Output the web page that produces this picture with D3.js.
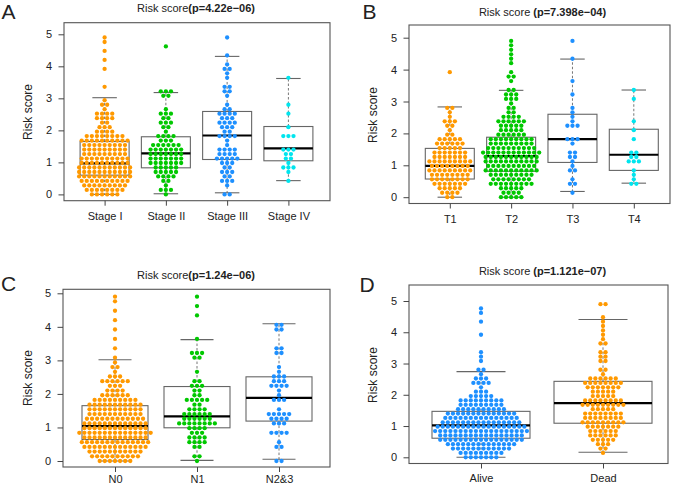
<!DOCTYPE html>
<html><head><meta charset="utf-8">
<script src="https://cdn.jsdelivr.net/npm/d3@7/dist/d3.min.js"></script>
<style>body{margin:0;background:#fff}svg{display:block}</style>
</head><body>
<svg id="chart" width="675" height="486"></svg>
<script>
// ---------------- DATA ----------------
const catsA = ["Stage I","Stage II","Stage III","Stage IV"];
const catsB = ["T1","T2","T3","T4"];
const catsC = ["N0","N1","N2&3"];
const catsD = ["Alive","Dead"];
const pA = "4.22e\u221206", pB = "7.398e\u221204", pC = "1.24e\u221206", pD = "1.121e\u221207";
const yTicks = [0,1,2,3,4,5];

const stageI = [0.01,0.02,0.03,0.04,0.05,0.02,
0.09,0.11,0.12,0.14,0.15,0.17,0.18,0.20,
0.22,0.24,0.25,0.27,0.28,0.29,0.31,0.32,0.34,
0.36,0.37,0.38,0.40,0.41,0.43,0.44,0.45,0.47,0.48,
0.50,0.51,0.52,0.53,0.55,0.56,0.57,0.58,0.59,0.61,0.62,
0.64,0.65,0.66,0.67,0.68,0.70,0.71,0.72,0.73,0.75,0.76,
0.78,0.79,0.80,0.81,0.83,0.84,0.85,0.86,0.88,0.89,0.90,
0.92,0.93,0.94,0.96,0.97,0.98,0.99,1.01,1.02,1.04,
1.06,1.07,1.08,1.10,1.11,1.12,1.14,1.15,1.16,1.18,
1.20,1.21,1.23,1.24,1.26,1.27,1.29,1.30,1.32,
1.34,1.35,1.37,1.38,1.40,1.41,1.43,1.44,1.46,
1.48,1.49,1.51,1.52,1.54,1.55,1.57,1.58,1.60,
1.62,1.63,1.64,1.66,1.67,1.68,1.70,1.71,1.72,1.74,
1.76,1.77,1.79,1.80,1.82,1.84,1.86,1.88,
1.91,1.94,1.97,2.01,2.05,2.09,2.14,2.20,2.27,
2.33,2.36,2.40,2.43,2.46,2.49,2.53,2.57,2.66,2.75,2.82,3.00,
3.30,3.86,4.24,4.43,4.78,4.90];
const stageII = [0.02,0.10,0.15,0.19,0.30,0.41,0.46,0.52,0.54,0.57,0.60,
0.64,0.66,0.69,0.72,0.75,0.79,0.82,0.85,0.87,0.90,
0.92,0.94,0.96,0.98,1.00,1.02,1.04,1.06,1.08,1.10,1.12,1.14,1.16,1.18,
1.20,1.22,1.24,1.26,1.28,1.30,1.32,1.34,1.36,1.38,1.40,1.42,1.44,1.46,
1.48,1.50,1.53,1.55,1.58,1.60,1.63,1.68,1.73,1.77,1.80,1.83,1.87,1.98,
2.05,2.12,2.20,2.24,2.28,2.34,2.42,2.47,2.52,2.57,2.70,3.05,3.10,3.16,3.18,3.20,4.61];
const stageIII = [0.03,0.05,0.30,0.43,0.45,0.47,0.54,0.58,0.66,0.68,0.72,0.80,0.84,
0.94,0.98,1.01,1.06,1.09,1.12,1.14,1.17,1.21,1.24,1.27,1.30,1.35,1.38,1.40,1.43,
1.56,1.66,1.78,1.80,1.84,1.86,1.92,1.96,2.06,2.10,2.14,2.20,2.23,2.26,2.29,
2.34,2.38,2.42,2.46,2.49,2.52,2.56,2.68,2.72,2.78,3.05,3.22,3.26,3.33,3.37,
3.62,3.84,3.92,3.96,4.08,4.31,4.95];
const stageIV = [0.43,0.68,0.78,0.82,0.88,1.00,1.12,1.18,1.25,1.30,1.40,1.44,1.45,
1.78,1.88,1.88,2.12,2.56,2.83,3.62];

const t1 = [0.00,0.03,0.10,0.13,0.16,0.19,0.23,0.26,0.29,0.31,0.33,
0.36,0.38,0.40,0.42,0.44,0.46,0.48,0.50,0.52,0.54,0.55,0.57,0.58,0.60,0.62,
0.64,0.66,0.68,0.69,0.71,0.72,0.74,0.76,0.78,0.79,0.81,0.82,0.84,0.85,0.87,0.88,0.90,
0.92,0.94,0.96,0.97,0.99,1.00,1.02,1.04,1.06,1.07,1.09,1.10,1.12,1.13,1.15,1.16,1.18,
1.20,1.22,1.24,1.26,1.28,1.30,1.32,1.34,1.36,1.38,1.40,1.42,1.44,1.46,
1.48,1.51,1.54,1.57,1.60,1.62,1.64,1.66,1.69,1.71,1.74,1.76,1.79,1.82,1.85,1.88,
1.93,1.98,2.08,2.20,2.27,2.35,2.40,2.44,2.50,2.66,2.75,2.80,3.87];
const t2 = [0.01,0.02,0.03,0.04,0.05,0.09,0.12,0.15,0.18,0.22,0.25,0.28,0.30,0.33,
0.36,0.37,0.39,0.40,0.42,0.43,0.45,0.46,0.48,0.50,0.52,0.53,0.55,0.57,0.58,0.60,0.62,
0.64,0.65,0.67,0.68,0.70,0.71,0.73,0.74,0.76,
0.78,0.79,0.80,0.81,0.83,0.84,0.85,0.86,0.87,0.88,0.90,
0.92,0.93,0.94,0.96,0.97,0.98,0.99,1.01,1.02,1.04,
1.06,1.07,1.08,1.09,1.11,1.12,1.13,1.14,1.15,1.16,1.18,
1.20,1.21,1.22,1.23,1.25,1.26,1.27,1.28,1.30,1.31,1.32,
1.34,1.35,1.36,1.37,1.38,1.39,1.40,1.41,1.42,1.43,1.44,1.46,
1.48,1.49,1.50,1.52,1.53,1.55,1.56,1.57,1.59,1.60,
1.62,1.63,1.65,1.66,1.68,1.69,1.71,1.72,1.74,
1.76,1.77,1.79,1.80,1.82,1.83,1.85,1.86,1.88,
1.90,1.93,1.96,1.98,2.00,2.02,2.04,2.07,2.10,2.13,2.16,2.18,2.21,2.24,2.27,2.30,
2.32,2.35,2.37,2.39,2.41,2.44,2.47,2.50,2.54,2.57,2.62,2.70,2.76,2.84,2.92,
3.03,3.08,3.12,3.17,3.20,3.24,3.30,3.35,3.62,3.80,3.84,3.95,4.22,4.34,4.47,4.60,4.74,4.88];
const t3 = [0.18,0.45,0.48,0.55,0.82,0.85,1.00,1.12,1.28,1.32,1.38,1.40,1.72,1.78,1.82,1.84,
2.25,2.27,2.30,2.32,2.48,2.72,2.78,3.24,3.63,4.33,4.96];
const t4 = [0.44,0.45,0.62,0.68,0.82,1.08,1.08,1.10,1.30,1.32,1.38,1.42,1.83,2.12,2.35,3.05,3.35];

const n0 = [0.00,0.01,0.02,0.03,0.04,0.05,0.06,
0.08,0.09,0.10,0.12,0.13,0.14,0.16,0.17,0.18,0.20,
0.22,0.23,0.24,0.25,0.26,0.28,0.29,0.30,0.31,0.32,0.34,
0.36,0.37,0.38,0.39,0.40,0.41,0.42,0.43,0.44,0.45,0.46,0.47,0.48,
0.50,0.51,0.52,0.53,0.54,0.55,0.56,0.57,0.58,0.59,0.60,0.61,0.62,0.62,
0.64,0.65,0.66,0.67,0.68,0.69,0.70,0.71,0.72,0.73,0.74,0.75,0.76,
0.78,0.78,0.79,0.80,0.81,0.82,0.83,0.84,0.85,0.86,0.87,0.88,0.89,0.90,0.90,
0.92,0.93,0.94,0.95,0.96,0.97,0.98,0.99,1.00,1.01,1.02,1.03,1.04,
1.06,1.07,1.08,1.09,1.10,1.11,1.12,1.13,1.14,1.15,1.16,1.17,1.18,
1.20,1.21,1.22,1.23,1.24,1.25,1.26,1.27,1.28,1.29,1.30,1.32,
1.34,1.35,1.36,1.37,1.38,1.39,1.40,1.41,1.42,1.44,1.46,
1.48,1.49,1.50,1.51,1.52,1.54,1.55,1.56,1.57,1.58,1.60,
1.62,1.63,1.64,1.65,1.66,1.67,1.68,1.69,1.70,1.72,1.74,
1.76,1.77,1.78,1.80,1.81,1.82,1.84,1.86,1.88,
1.90,1.93,1.95,1.97,1.99,2.02,2.05,2.09,2.13,2.16,2.20,2.25,2.29,
2.32,2.35,2.37,2.39,2.41,2.44,2.48,2.52,2.56,2.68,2.76,2.84,2.92,3.03,
3.30,3.62,3.87,4.25,4.42,4.75,4.88];
const n1 = [0.02,0.12,0.17,0.40,0.45,0.52,0.55,0.58,0.61,0.65,0.68,0.71,0.74,0.78,0.81,0.85,
0.93,0.96,0.99,1.02,1.06,1.07,1.08,1.09,1.10,1.12,1.14,1.17,
1.20,1.22,1.25,1.27,1.29,1.31,1.34,1.36,1.38,1.40,1.42,1.45,
1.48,1.51,1.54,1.58,1.63,1.70,1.76,1.79,1.82,1.84,1.87,1.92,1.98,2.05,2.10,
2.20,2.24,2.28,2.38,2.42,2.70,3.05,3.09,3.16,3.18,3.22,3.62,4.32,4.62,4.95];
const n23 = [0.04,0.06,0.40,0.44,0.60,0.80,0.83,0.86,0.88,1.07,1.10,1.14,1.22,1.25,1.28,1.30,
1.34,1.36,1.38,1.40,1.42,1.55,1.82,1.85,1.88,1.95,2.10,2.22,2.25,2.28,2.30,
2.36,2.40,2.44,2.50,2.53,2.56,2.70,2.78,3.20,3.24,3.33,3.37,3.86,3.92,4.05,4.09];

const alive = [0.00,0.01,0.02,0.03,0.04,0.05,0.06,
0.08,0.10,0.11,0.13,0.14,0.15,0.17,0.18,0.20,
0.22,0.23,0.24,0.25,0.26,0.27,0.28,0.29,0.30,0.31,0.32,0.34,
0.36,0.37,0.38,0.39,0.40,0.41,0.42,0.43,0.44,0.45,0.46,0.47,0.48,0.48,
0.50,0.50,0.51,0.52,0.53,0.54,0.55,0.56,0.56,0.57,0.58,0.59,0.60,0.60,0.61,0.62,0.62,
0.64,0.64,0.65,0.66,0.67,0.68,0.69,0.70,0.70,0.71,0.72,0.73,0.74,0.74,0.75,0.76,0.76,
0.78,0.78,0.79,0.80,0.80,0.81,0.82,0.83,0.84,0.84,0.85,0.86,0.87,0.88,0.88,0.89,0.90,0.90,0.90,
0.92,0.92,0.93,0.94,0.95,0.96,0.97,0.98,0.98,0.99,1.00,1.01,1.02,1.02,1.03,1.04,1.04,1.04,
1.06,1.06,1.07,1.08,1.09,1.10,1.11,1.12,1.12,1.13,1.14,1.15,1.16,1.17,1.18,1.18,
1.20,1.21,1.22,1.23,1.24,1.25,1.26,1.26,1.27,1.28,1.29,1.30,1.31,1.32,1.32,
1.34,1.35,1.36,1.37,1.38,1.39,1.40,1.40,1.41,1.42,1.43,1.44,1.45,1.46,
1.48,1.49,1.50,1.52,1.53,1.55,1.56,1.57,1.59,1.60,
1.62,1.64,1.65,1.67,1.68,1.69,1.71,1.72,1.74,
1.76,1.77,1.79,1.80,1.82,1.83,1.85,1.86,1.88,
1.91,1.94,1.96,1.98,2.01,2.05,2.10,2.15,2.24,2.33,2.37,2.40,2.43,2.48,2.52,2.56,
2.66,2.76,2.82,3.05,3.16,3.30,3.87,4.30,4.62,4.75];
const dead = [0.16,0.27,0.31,0.40,0.44,0.47,0.51,0.54,0.56,0.58,0.61,
0.64,0.67,0.69,0.71,0.73,0.76,0.78,0.80,0.83,0.85,0.87,0.90,
0.92,0.94,0.96,0.98,1.00,1.02,1.04,1.06,1.07,1.09,1.10,1.12,1.13,1.15,1.16,1.18,
1.20,1.22,1.24,1.25,1.27,1.29,1.30,1.32,1.34,1.36,1.38,1.39,1.41,1.42,1.44,1.46,
1.49,1.52,1.55,1.57,1.60,1.62,1.64,1.65,1.67,1.68,1.70,1.71,1.73,1.74,
1.76,1.78,1.79,1.81,1.82,1.84,1.86,1.88,1.91,1.94,1.96,1.99,2.02,
2.05,2.08,2.11,2.13,2.16,2.18,2.20,2.22,2.24,2.26,2.28,2.30,
2.32,2.34,2.36,2.38,2.40,2.42,2.43,2.44,2.46,2.48,2.50,2.52,2.54,2.57,
2.70,2.76,2.82,3.04,3.08,3.17,3.22,3.30,3.35,3.60,3.64,3.82,3.86,4.05,4.18,4.30,4.42,4.88,4.95];

// box statistics: [lower whisker, Q1, median, Q3, upper whisker]
const boxA = [[0.00,0.60,0.97,1.65,3.02],[0.02,0.83,1.28,1.80,3.18],[0.05,1.09,1.84,2.59,4.31],[0.43,1.05,1.44,2.12,3.62]];
const boxB = [[0.00,0.57,0.98,1.53,2.83],[0.00,0.81,1.29,1.88,3.35],[0.18,1.09,1.82,2.60,4.33],[0.44,0.84,1.33,2.13,3.36]];
const boxC = [[0.00,0.64,1.04,1.65,3.02],[0.02,0.99,1.33,2.22,3.62],[0.05,1.19,1.88,2.51,4.09]];
const boxD = [[0.00,0.61,1.02,1.47,2.74],[0.16,1.09,1.73,2.43,4.41]];

// ---------------- STYLE / LAYOUT ----------------
const ORANGE = "#FF9900", GREEN = "#00C800", BLUE = "#1E90FF", CYAN = "#00E5EE";
const FONT = "'Liberation Sans', Arial, Helvetica, sans-serif";
const STEP = 0.14, DX = 5.1, RAD = 2.15;

const panels = [
  {letter:"A", lx:1.5, ly:19.3, cats:catsA, groups:[stageI,stageII,stageIII,stageIV], box:boxA,
   colors:[ORANGE,GREEN,BLUE,CYAN], title:"Risk score", p:pA, tx:196, ty:12.3,
   frame:[64,22.7,330,200.7], yr:[194.4,34.3], xr:[104.6,288.4], bw:49, ylx:28, yly:112, xpad:6.5},
  {letter:"B", lx:362.5, ly:19, cats:catsB, groups:[t1,t2,t3,t4], box:boxB,
   colors:[ORANGE,GREEN,BLUE,CYAN], title:"Risk score ", p:pB, tx:542.5, ty:15.8,
   frame:[409,25,670,203.5], yr:[197.2,37.7], xr:[449.8,633.8], bw:49, ylx:373, yly:115, xpad:6.5},
  {letter:"C", lx:1, ly:290.5, cats:catsC, groups:[n0,n1,n23], box:boxC,
   colors:[ORANGE,GREEN,BLUE], title:"Risk score", p:pC, tx:196, ty:278.5,
   frame:[63,289.3,330,467], yr:[461,293.3], xr:[115,279], bw:66, ylx:28, yly:378, xpad:3},
  {letter:"D", lx:359.5, ly:291.5, cats:catsD, groups:[alive,dead], box:boxD,
   colors:[BLUE,ORANGE], title:"Risk score ", p:pD, tx:542.5, ty:275,
   frame:[409,285,668,463.5], yr:[457.3,301], xr:[481,603], bw:98, ylx:373, yly:375, xpad:5.5}
];

const svg = d3.select("#chart").style("font-family", FONT);

panels.forEach(P => {
  const g = svg.append("g");
  const [fx0, fy0, fx1, fy1] = P.frame;
  const y = d3.scaleLinear().domain([0,5]).range(P.yr);
  const x = d3.scalePoint().domain(P.cats).range(P.xr);

  // frame
  g.append("rect").attr("x",fx0).attr("y",fy0).attr("width",fx1-fx0).attr("height",fy1-fy0)
    .attr("fill","none").attr("stroke","#555").attr("stroke-width",1.1);

  // boxes
  P.cats.forEach((c,i) => {
    const [lo,q1,md,q3,hi] = P.box[i];
    const cx = x(c), hw = P.bw/2, cw = P.bw/4;
    const bg = g.append("g");
    bg.append("line").attr("x1",cx).attr("x2",cx).attr("y1",y(q3)).attr("y2",y(hi))
      .attr("stroke","#777").attr("stroke-dasharray","2.5,2").attr("stroke-width",1);
    bg.append("line").attr("x1",cx).attr("x2",cx).attr("y1",y(q1)).attr("y2",y(lo))
      .attr("stroke","#777").attr("stroke-dasharray","2.5,2").attr("stroke-width",1);
    [lo,hi].forEach(v => bg.append("line").attr("x1",cx-cw).attr("x2",cx+cw)
      .attr("y1",y(v)).attr("y2",y(v)).attr("stroke","#666").attr("stroke-width",1.1));
    bg.append("rect").attr("x",cx-hw).attr("y",y(q3)).attr("width",P.bw).attr("height",y(q1)-y(q3))
      .attr("fill","none").attr("stroke","#666").attr("stroke-width",1.1);
    bg.append("line").attr("x1",cx-hw).attr("x2",cx+hw).attr("y1",y(md)).attr("y2",y(md))
      .attr("stroke","#000").attr("stroke-width",2.2);
  });

  // beeswarm (center method: values binned into rows, centred in each row)
  P.cats.forEach((c,i) => {
    const rows = d3.group(P.groups[i], v => Math.round(v/STEP));
    const pts = [];
    for (const [k, arr] of rows) {
      const n = arr.length;
      arr.forEach((v,j) => pts.push({x: x(c) + (j-(n-1)/2)*DX, y: y(k*STEP)}));
    }
    g.append("g").selectAll("circle").data(pts).join("circle")
      .attr("cx",d=>d.x).attr("cy",d=>d.y).attr("r",RAD).attr("fill",P.colors[i]);
  });

  // y axis
  const ya = g.append("g").attr("transform",`translate(${fx0},0)`)
    .call(d3.axisLeft(y).tickValues(yTicks).tickSize(5.5).tickPadding(6.5).tickFormat(d3.format("d")));
  ya.select(".domain").remove();
  ya.selectAll("line").attr("stroke","#444");
  ya.selectAll("text").attr("font-size",11).attr("fill","#222").attr("font-family",FONT);

  // x axis
  const xa = g.append("g").attr("transform",`translate(0,${fy1})`)
    .call(d3.axisBottom(x).tickSize(5).tickPadding(P.xpad));
  xa.select(".domain").remove();
  xa.selectAll("line").attr("stroke","#444");
  xa.selectAll("text").attr("font-size",11).attr("fill","#222").attr("font-family",FONT);

  // y label
  g.append("text").attr("transform",`translate(${P.ylx},${P.yly}) rotate(-90)`)
    .attr("text-anchor","middle").attr("dominant-baseline","central")
    .attr("font-size",12).attr("fill","#222").text("Risk score");

  // title
  const t = g.append("text").attr("x",P.tx).attr("y",P.ty).attr("text-anchor","middle")
    .attr("font-size",11).attr("fill","#222");
  t.append("tspan").text(P.title);
  t.append("tspan").attr("font-weight","bold").text("(p=" + P.p + ")");

  // panel letter
  g.append("text").attr("x",P.lx).attr("y",P.ly).attr("font-size",21)
    .attr("fill","#222").text(P.letter);
});
</script>
</body></html>
